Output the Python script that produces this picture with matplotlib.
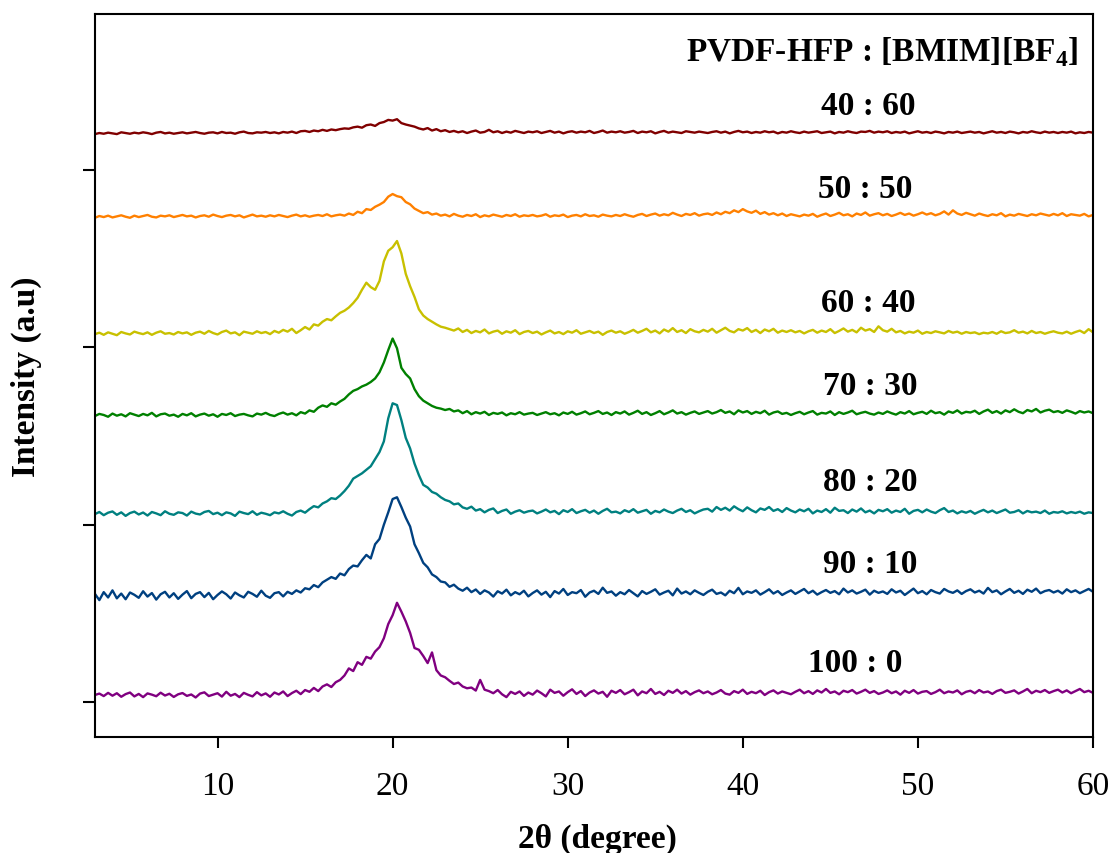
import numpy as np
import matplotlib
matplotlib.use('Agg')
import matplotlib.pyplot as plt

# 2-theta scan (degrees), 0.25 deg steps
two_theta = np.arange(3, 60.001, 0.25)

i_100_0 = [0, 8, -6, 12, -4, 10, -10, 5, 14, -8, 6, -12, 9, 2, -7, 13, -3, 7, -11, 4,
           11, -5, 3, -14, 8, 15, -6, 2, 10, -9, 18, -4, 6, -12, 12, 1, -8, 16, -2, 9,
           -10, 14, 3, 20, -6, 11, 24, 5, 28, 18, 40, 22, 48, 60, 45, 72, 85, 110, 150, 135,
           185, 170, 215, 205, 245, 270, 320, 400, 450, 520, 470, 415, 350, 265, 255, 220, 180, 240, 140, 110,
           100, 80, 62, 70, 48, 38, 42, 25, 85, 30, 22, 10, 28, 4, -12, 18, 6, 20, -5, 14,
           2, 25, 10, -8, 30, 12, 20, -4, 16, 32, 6, 22, -6, 14, 26, 8, 18, -10, 24, 12,
           28, 4, 16, 30, -2, 20, 10, 34, 6, 18, 0, 24, 12, 30, 8, 22, 2, 16, 26, 10,
           20, 4, 14, 28, 8, 2, 22, 12, 30, 6, 18, 10, 24, 0, 16, 26, 8, 20, 12, 4,
           18, 30, 10, 22, 6, 26, 14, 34, 12, 20, 4, 24, 16, 28, 8, 18, 30, 12, 22, 6,
           14, 26, 10, 20, 2, 24, 12, 28, 8, 18, 22, 6, 16, 30, 10, 20, 14, 26, 4, 18,
           24, 10, 28, 14, 20, 6, 22, 30, 12, 18, 26, 8, 20, 34, 10, 24, 16, 28, 12, 22,
           30, 14, 26, 10, 22, 34, 16, 24, 12]

i_90_10 = [10, -25, 20, -10, 30, -15, 12, -20, 18, 5, -12, 25, -5, 15, -22, 8, 22, -10, 14, -18,
           6, 26, -14, 10, 20, -8, 16, -20, 4, 24, 8, -16, 18, 2, -10, 22, 10, -6, 28, 0,
           -12, 14, 20, -4, 22, 10, 30, 18, 42, 36, 60, 48, 75, 90, 105, 95, 125, 115, 150, 170,
           165, 200, 230, 210, 290, 320, 400, 470, 545, 555, 500, 440, 390, 290, 240, 185, 160, 120, 105, 80,
           75, 50, 62, 40, 28, 45, 20, 35, 10, 30, 18, -5, 25, 12, 34, 2, 20, 8, 28, -4,
           15, 30, 6, 22, -8, 26, 12, 38, 4, 20, 14, 32, -6, 18, 28, 10, 45, 16, 24, 0,
           20, 8, 32, 14, -4, 26, 10, 22, 36, 6, 18, 28, 2, 40, 12, 24, 8, 30, 16, 4,
           22, 34, 10, 18, 2, 28, 14, 44, 8, 24, 16, 30, 6, 20, 36, 12, 26, 4, 18, 30,
           10, 24, 38, 14, 28, 6, 20, 32, 16, 26, 8, 40, 18, 30, 12, 22, 34, 6, 28, 16,
           24, 10, 36, 18, 28, 4, 22, 40, 14, 26, 8, 32, 20, 12, 38, 24, 16, 30, 10, 26,
           36, 18, 28, 12, 44, 20, 30, 8, 24, 38, 16, 28, 10, 34, 22, 40, 14, 26, 32, 18,
           28, 12, 36, 20, 30, 14, 26, 38, 22]

i_80_20 = [0, 12, -6, 8, 15, -4, 10, -10, 6, 14, -2, 9, -8, 12, 4, -6, 16, 2, -4, 10,
           6, -8, 14, 3, -2, 12, 18, 0, 8, -6, 10, 4, -10, 14, 6, 0, 16, -4, 8, 2,
           -6, 10, 4, 16, 2, -8, 12, 20, 8, 28, 45, 38, 60, 72, 90, 85, 105, 130, 160, 200,
           215, 230, 250, 270, 310, 350, 410, 540, 625, 615, 530, 430, 370, 285, 220, 165, 150, 125, 115, 95,
           80, 72, 55, 60, 38, 30, 42, 20, 28, 10, 24, 32, 6, 18, 26, 2, 14, 22, 8, 16,
           20, 4, 14, 26, 10, 18, 0, 22, 12, 28, 6, 16, 24, 8, 20, 2, 18, 30, 10, 14,
           4, 22, 12, 28, 8, 16, 24, 2, 18, 10, 26, 14, 6, 20, 30, 12, 22, 4, 16, 26,
           30, 14, 40, 24, 36, 20, 44, 28, 16, 38, 22, 10, 32, 24, 40, 18, 28, 12, 34, 20,
           10, 26, 16, 30, 4, 20, 12, 28, 8, 36, 18, 22, 6, 26, 14, 32, 10, 20, 4, 24,
           16, 28, 8, 20, 12, 30, 2, 18, 24, 10, 26, 14, 6, 22, 34, 12, 20, 4, 16, 8,
           18, 2, 14, 24, 10, 20, 6, 16, 26, 8, 12, 22, 4, 18, 10, 14, 6, 20, 2, 12,
           8, 16, 4, 12, 6, 14, 2, 10, 6]

i_70_30 = [-2, 10, 4, -6, 12, 0, 8, -4, 14, 6, -2, 10, 2, 16, -4, 8, 12, 0, 6, -6,
           10, 2, 14, -4, 6, 12, 0, 8, -6, 10, 4, 14, -2, 6, 10, 2, -4, 12, 6, 16,
           4, -2, 10, 18, 6, 14, 2, 20, 12, 30, 22, 45, 58, 50, 70, 62, 80, 95, 120, 140,
           150, 165, 175, 190, 210, 245, 300, 370, 435, 380, 270, 235, 210, 150, 110, 85, 70, 55, 45, 40,
           32, 38, 24, 30, 14, 26, 8, 20, 12, 22, 4, 16, 10, 18, 2, 14, 8, 20, 6, 12,
           16, 4, 12, 20, 8, 14, 2, 18, 10, 22, 6, 14, 24, 8, 16, 26, 10, 18, 4, 20,
           12, 24, 6, 16, 28, 10, 20, 4, 14, 26, 8, 18, 30, 12, 20, 6, 16, 24, 10, 18,
           26, 12, 20, 32, 16, 24, 8, 30, 18, 26, 10, 22, 14, 28, 6, 18, 24, 10, 16, 4,
           14, 22, 8, 18, 26, 6, 16, 12, 24, 4, 20, 10, 18, 28, 8, 16, 22, 12, 6, 18,
           10, 24, 14, 6, 20, 12, 26, 8, 16, 22, 10, 28, 14, 20, 6, 24, 16, 30, 12, 22,
           18, 28, 10, 24, 34, 16, 26, 12, 30, 20, 36, 22, 14, 32, 24, 38, 18, 28, 34, 20,
           26, 16, 30, 22, 12, 26, 18, 24, 14]

i_60_40 = [0, 8, -4, 10, 2, -6, 12, 4, -2, 14, 6, 0, 10, -4, 8, 16, 2, 6, -2, 12,
           4, 10, -4, 8, 14, 2, 18, 6, -2, 12, 20, 4, 10, -6, 14, 8, 2, 16, 6, 12,
           0, 18, 8, 24, 14, 30, 6, 22, 40, 26, 55, 48, 70, 85, 78, 100, 120, 132, 150, 175,
           205, 250, 290, 265, 250, 300, 410, 470, 490, 525, 455, 340, 270, 210, 140, 105, 85, 70, 55, 42,
           36, 28, 20, 32, 12, 24, 6, 18, 10, 26, 4, 14, 20, 2, 16, 8, 22, 0, 12, 18,
           6, 14, -2, 10, 20, 4, 12, 0, 16, 8, 22, 2, 10, 18, 6, 14, -4, 12, 20, 8,
           16, 2, 12, 24, 8, 18, 30, 10, 20, 4, 26, 14, 34, 12, 22, 6, 28, 16, 10, 24,
           14, 30, 8, 22, 36, 18, 10, 28, 20, 34, 12, 24, 6, 26, 16, 30, 8, 20, 12, 22,
           10, 18, 4, 16, 24, 8, 20, 12, 28, 6, 18, 32, 14, 24, 10, 36, 20, 28, 12, 44,
           22, 14, 30, 10, 18, 4, 14, 8, 20, 2, 12, 6, 16, 10, 4, 18, 8, 14, 2, 12,
           6, 10, 0, 8, 4, 12, 2, 16, 6, 10, 22, 8, 14, 4, 18, 6, 12, 2, 10, 16,
           8, 4, 14, 2, 12, 20, 6, 28, 10]

i_50_50 = [-4, 6, 0, 8, -2, 4, 10, 2, -4, 8, 0, 6, 12, 2, -2, 8, 4, 10, 0, 6,
           12, 4, 8, -2, 6, 10, 2, 14, 6, 0, 8, 12, 4, 10, -2, 6, 14, 4, 8, 2,
           10, 4, 12, 6, 0, 8, 14, 4, 10, 2, 8, 12, 6, 16, 4, 10, 14, 8, 20, 12,
           30, 22, 45, 40, 58, 70, 85, 115, 130, 118, 112, 85, 72, 48, 35, 22, 28, 14, 20, 8,
           14, 4, 18, 8, 2, 12, 6, 16, 0, 10, 4, 14, 8, 2, 12, 6, 16, 2, 10, 6,
           12, 4, 8, 16, 2, 10, 6, 14, 0, 8, 12, 4, 16, 6, 10, 2, 14, 8, 4, 12,
           6, 16, 8, 2, 12, 18, 6, 14, 20, 8, 16, 10, 24, 14, 6, 18, 12, 22, 8, 16,
           20, 12, 26, 16, 30, 22, 38, 28, 45, 32, 24, 36, 18, 28, 14, 22, 10, 20, 6, 16,
           10, 4, 14, 8, 18, 2, 12, 20, 6, 14, 24, 10, 16, 4, 20, 12, 26, 8, 16, 22,
           10, 18, 6, 14, 24, 12, 20, 8, 16, 26, 14, 22, 10, 18, 32, 14, 38, 20, 12, 24,
           16, 8, 20, 12, 6, 16, 10, 22, 4, 14, 8, 18, 12, 6, 16, 10, 20, 14, 8, 18,
           10, 22, 6, 16, 12, 8, 18, 4, 12]

i_40_60 = [-2, 4, 0, 6, 2, -2, 8, 4, 0, 6, 2, 8, 4, -2, 6, 10, 2, 6, 0, 4,
           8, 2, 6, 10, 4, 0, 6, 8, 2, 10, 4, 6, 0, 8, 12, 4, 2, 8, 6, 10,
           4, 8, 2, 10, 6, 12, 4, 14, 16, 10, 18, 14, 22, 16, 24, 20, 26, 30, 28, 36,
           40, 34, 48, 52, 44, 60, 66, 78, 74, 82, 60, 52, 46, 40, 30, 24, 32, 18, 26, 14,
           20, 10, 16, 8, 14, 4, 12, 18, 6, 10, 22, 8, 14, 4, 12, 6, 16, 10, 4, 12,
           8, 14, 4, 10, 16, 6, 12, 2, 10, 14, 6, 12, 8, 16, 4, 10, 18, 6, 12, 8,
           14, 6, 10, 16, 4, 12, 8, 14, 2, 10, 16, 6, 12, 8, 4, 14, 10, 6, 12, 8,
           4, 10, 14, 6, 12, 2, 10, 16, 8, 12, 4, 10, 6, 14, 8, 12, 2, 10, 6, 14,
           8, 4, 12, 6, 10, 14, 4, 8, 12, 2, 10, 6, 14, 8, 4, 12, 10, 16, 6, 12,
           8, 14, 4, 10, 6, 12, 2, 8, 14, 6, 10, 4, 12, 8, 2, 10, 6, 12, 4, 8,
           12, 6, 10, 2, 8, 14, 6, 10, 4, 12, 8, 2, 10, 6, 14, 8, 4, 12, 6, 10,
           4, 10, 6, 12, 2, 8, 4, 10, 6]

series = [i_100_0, i_90_10, i_80_20, i_70_30, i_60_40, i_50_50, i_40_60]
labels = ['100 : 0', '90 : 10', '80 : 20', '70 : 30', '60 : 40', '50 : 50', '40 : 60']
colors = ['#800080', '#004080', '#008080', '#008000', '#c8c000', '#ff8000', '#800000']

# vertical shift of each pattern in the stack
offsets = [40, 600, 1060, 1615, 2075, 2735, 3205]
# label anchor (x center, baseline) in data units
label_x = [46.42, 47.27, 47.27, 47.27, 47.16, 47.0, 47.16]
label_y = [175, 733, 1196, 1737, 2205, 2848, 3316]

plt.rcParams['font.family'] = 'Liberation Serif'
plt.rcParams['mathtext.fontset'] = 'custom'
plt.rcParams['mathtext.rm'] = 'Liberation Serif:bold'
plt.rcParams['mathtext.bf'] = 'Liberation Serif:bold'

fig = plt.figure(figsize=(11.12, 8.54), dpi=100)
ax = fig.add_axes([0.0854, 0.1358, 0.8975, 0.8466])

for vals, off, col in zip(series, offsets, colors):
    ax.plot(two_theta, np.array(vals) + off, color=col, lw=1.7)

for lab, lx, ly in zip(labels, label_x, label_y):
    ax.text(lx, ly, lab, fontsize=24, fontweight='bold', ha='center', va='baseline')

ax.text(47.96, 3620, 'PVDF-HFP : [BMIM][BF$_{\\mathbf{4}}$]', fontsize=24,
        fontweight='bold', ha='center', va='baseline')

ax.set_xlim(3, 60)
ax.set_ylim(-197, 3880)
ax.set_xticks([10, 20, 30, 40, 50, 60])
ax.set_yticks([0, 1000, 2000, 3000])
ax.set_yticklabels([])
ax.tick_params(axis='x', direction='out', length=8, width=1.5, labelsize=24, pad=16)
ax.tick_params(axis='y', direction='out', length=8.6, width=1.5)
for sp in ax.spines.values():
    sp.set_linewidth(1.5)

ax.set_xlabel('2\u03b8 (degree)', fontsize=24, fontweight='bold')
ax.xaxis.set_label_coords(0.503, -0.118)
ax.set_ylabel('Intensity (a.u)', fontsize=24, fontweight='bold')
ax.yaxis.set_label_coords(-0.053, 0.5)

fig.savefig('out.png', dpi=100)
